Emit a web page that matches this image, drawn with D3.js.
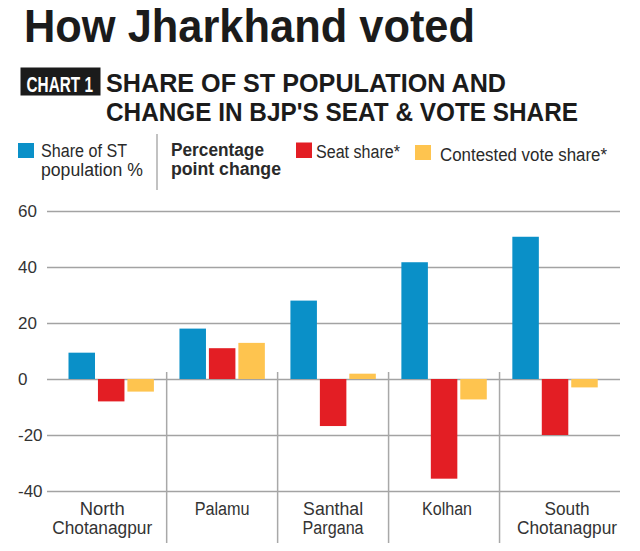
<!DOCTYPE html>
<html>
<head>
<meta charset="utf-8">
<script src="https://cdn.jsdelivr.net/npm/d3@7"></script>
<style>
  html, body { margin: 0; padding: 0; background: #fff; }
  svg { display: block; }
  text { font-family: "Liberation Sans", "DejaVu Sans", sans-serif; fill: #231f20; }
</style>
</head>
<body>
<svg id="chart" width="640" height="551"></svg>
<script>
// ---- data ----
const categories = ["North Chotanagpur", "Palamu", "Santhal Pargana", "Kolhan", "South Chotanagpur"];
const categoryLines = [["North", "Chotanagpur"], ["Palamu"], ["Santhal", "Pargana"], ["Kolhan"], ["South", "Chotanagpur"]];
const seriesNames = ["Share of ST population %", "Seat share*", "Contested vote share*"];
const stShare = [9.4, 18, 28, 41.7, 50.8];
const seatShareChange = [-8, 11, -16.8, -35.6, -20];
const voteShareChange = [-4.5, 12.9, 1.9, -7.3, -3];
const yTicks = [-40, -20, 0, 20, 40, 60];
const colors = ["#0a90c8", "#e31e24", "#fec44f"];

const seriesValues = [stShare, seatShareChange, voteShareChange];

const svg = d3.select("#chart");

// ---- title ----
svg.append("text").attr("x", 24).attr("y", 42)
  .attr("font-size", 47).attr("font-weight", "bold")
  .attr("textLength", 451).attr("lengthAdjust", "spacingAndGlyphs")
  .style("fill", "#1b1b1b")
  .text("How Jharkhand voted");

svg.append("rect").attr("x", 20.5).attr("y", 67.5).attr("width", 80).attr("height", 28).attr("fill", "#1b1b1b");
// condensed label: scaled horizontally so its box matches the drawn width
const chartLbl = svg.append("text").attr("x", 0).attr("y", 0)
  .attr("font-size", 22).attr("font-weight", "bold")
  .style("fill", "#fff").text("CHART 1");
const natW = chartLbl.node().getComputedTextLength();
chartLbl.attr("transform", `translate(26.5,91.5) scale(${66.5 / natW},1)`);

svg.append("text").attr("x", 106).attr("y", 91.5)
  .attr("font-size", 25.8).attr("font-weight", "bold")
  .attr("textLength", 400).attr("lengthAdjust", "spacingAndGlyphs")
  .style("fill", "#1b1b1b").text("SHARE OF ST POPULATION AND");
svg.append("text").attr("x", 106).attr("y", 120.5)
  .attr("font-size", 25.8).attr("font-weight", "bold")
  .attr("textLength", 472).attr("lengthAdjust", "spacingAndGlyphs")
  .style("fill", "#1b1b1b").text("CHANGE IN BJP'S SEAT & VOTE SHARE");

// ---- legend ----
const lg = svg.append("g");
function ltext(x, y, t, w, bold) {
  lg.append("text").attr("x", x).attr("y", y).attr("font-size", 18)
    .attr("font-weight", bold ? "bold" : "normal")
    .attr("textLength", w).attr("lengthAdjust", "spacingAndGlyphs")
    .style("fill", "#2a2a2a").text(t);
}
lg.append("rect").attr("x", 18).attr("y", 143).attr("width", 16).attr("height", 15).attr("fill", colors[0]);
ltext(41, 157, "Share of ST", 86);
ltext(41, 176, "population %", 102);
lg.append("line").attr("x1", 157).attr("x2", 157).attr("y1", 134).attr("y2", 190)
  .attr("stroke", "#999").attr("stroke-width", 1.2);
ltext(171, 156, "Percentage", 93, true);
ltext(171, 174.5, "point change", 110, true);
lg.append("rect").attr("x", 296).attr("y", 142.5).attr("width", 16).attr("height", 15.5).attr("fill", colors[1]);
ltext(316, 158, "Seat share*", 84);
lg.append("rect").attr("x", 415).attr("y", 145).attr("width", 16).attr("height", 15).attr("fill", colors[2]);
ltext(440, 160.5, "Contested vote share*", 167);

// ---- scales ----
const y = d3.scaleLinear().domain([-40, 60]).range([491, 211]);
const x0 = d3.scaleBand().domain(categories).range([55.7, 610.5]).padding(0);
const x1 = d3.scaleBand().domain(seriesNames).range([12.8, 98.2]).paddingInner(0.1).paddingOuter(0);

// gridlines + tick labels
const yAxis = d3.axisLeft(y).tickValues(yTicks).tickSize(0).tickFormat(d3.format("d"));
const ga = svg.append("g").attr("transform", "translate(47,0)").call(yAxis);
ga.select(".domain").remove();
ga.selectAll(".tick text").remove();
ga.selectAll(".tick").append("line").attr("x1", 0).attr("x2", 573)
  .attr("stroke", "#a3a3a3").attr("stroke-width", 1.5);
ga.selectAll(".tick").append("text")
  .attr("x", -29).attr("dy", "0.35em")
  .attr("text-anchor", "start").attr("font-size", 17)
  .style("fill", "#333").text(d => d);

// separators
svg.append("g").selectAll("line").data(categories.slice(1)).join("line")
  .attr("x1", d => x0(d)).attr("x2", d => x0(d))
  .attr("y1", 372).attr("y2", 543)
  .attr("stroke", "#a8a8a8").attr("stroke-width", 1.5);

// bars
const groups = svg.append("g").selectAll("g").data(categories).join("g")
  .attr("transform", d => `translate(${x0(d)},0)`);
groups.selectAll("rect")
  .data((c, i) => seriesNames.map((s, j) => ({ s, v: seriesValues[j][i], j })))
  .join("rect")
  .attr("x", d => x1(d.s))
  .attr("width", x1.bandwidth())
  .attr("y", d => y(Math.max(0, d.v)))
  .attr("height", d => Math.abs(y(d.v) - y(0)))
  .attr("fill", d => colors[d.j]);

// category labels
const labelShift = [-9, 0, 0, 3, 12];
const labelWidths = [[45, 100], [55], [60, 61], [50], [45, 100]];
const cl = svg.append("g");
categories.forEach((c, i) => {
  const cx = x0(c) + x0.bandwidth() / 2 + labelShift[i];
  categoryLines[i].forEach((t, k) => {
    cl.append("text").attr("x", cx).attr("y", 515 + k * 19)
      .attr("text-anchor", "middle").attr("font-size", 18)
      .attr("textLength", labelWidths[i][k]).attr("lengthAdjust", "spacingAndGlyphs")
      .style("fill", "#333").text(t);
  });
});
</script>
</body>
</html>
